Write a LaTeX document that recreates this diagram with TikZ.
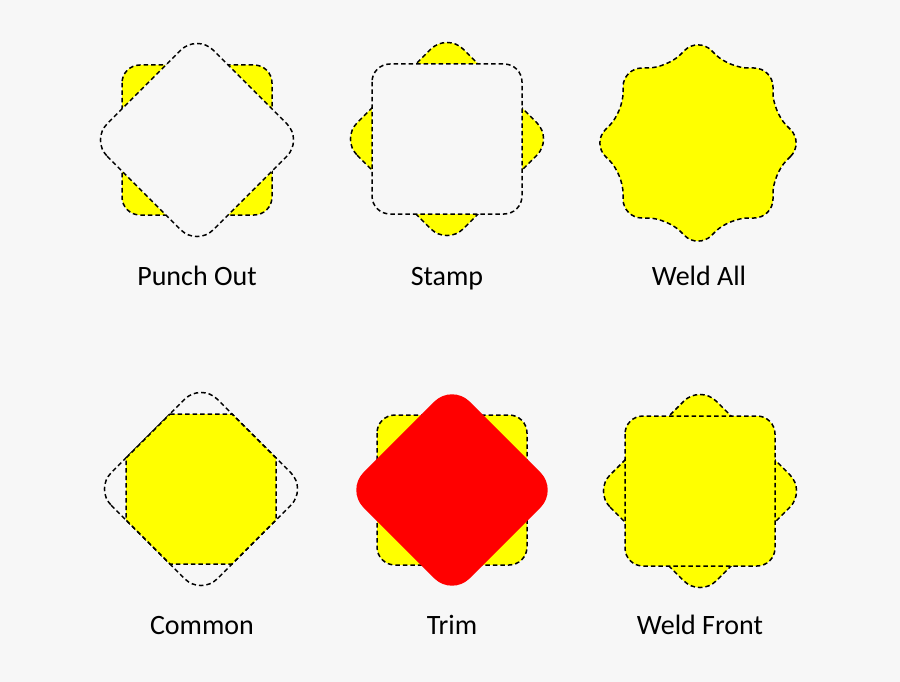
\documentclass[tikz,border=0pt]{standalone}
\usepackage{fontspec}
\setmainfont{Carlito}
\usetikzlibrary{positioning}

\definecolor{paper}{HTML}{F7F7F7}
\definecolor{weldyellow}{HTML}{FFFF00}
\definecolor{trimred}{HTML}{FF0000}

\begin{document}
\begin{tikzpicture}[x=1pt, y=-1pt,
    cutline/.style={draw=black, line width=1.5pt, dash pattern=on 4.5pt off 3pt},
    sqpath/.style={insert path={[rounded corners=18] (-75,-75) rectangle (75,75)}},
    dmpath/.style={insert path={[rotate=45, rounded corners=23] (-75,-75) rectangle (75,75)}},
    lbl/.style={anchor=base, font=\fontsize{28}{34}\selectfont}]
  \fill[paper] (0,0) rectangle (900,682);

  % top row
  \begin{scope}[shift={(197,140)}]
    \path[cutline, fill=weldyellow, sqpath];
    \path[cutline, fill=paper, dmpath];
  \end{scope}
  \begin{scope}[shift={(447,139)}]
    \path[cutline, fill=weldyellow, dmpath];
    \path[cutline, fill=paper, sqpath];
  \end{scope}
  \begin{scope}[shift={(698,143)}]
    \path[cutline, fill=weldyellow, rounded corners=19]
      (106,0) -- (75,31) -- (75,75) -- (31,75) -- (0,106)
      -- (-31,75) -- (-75,75) -- (-75,31) -- (-106,0) -- (-75,-31)
      -- (-75,-75) -- (-31,-75) -- (0,-106) -- (31,-75) -- (75,-75)
      -- (75,-31) -- cycle;
  \end{scope}

  % bottom row
  \begin{scope}[shift={(201,489)}]
    \path[cutline, dmpath];
    \path[cutline, fill=weldyellow] (-31,-75) -- (31,-75) -- (75,-31) -- (75,31)
      -- (31,75) -- (-31,75) -- (-75,31) -- (-75,-31) -- cycle;
  \end{scope}
  \begin{scope}[shift={(452,490)}]
    \path[cutline, fill=weldyellow, sqpath];
    \fill[trimred, rotate=45, rounded corners=25] (-75,-75) rectangle (75,75);
  \end{scope}
  \begin{scope}[shift={(700,491)}]
    \path[cutline, fill=weldyellow, dmpath];
    \path[cutline, fill=weldyellow, sqpath];
  \end{scope}

  \node[lbl] (punchout) at (197,285) {Punch Out};
  \node[lbl] (stamp) at (447,285) {Stamp};
  \node[lbl] (weldall) at (699,285) {Weld All};
  \node[lbl] (common) at (202,634) {Common};
  \node[lbl] (trim) at (452,634) {Trim};
  \node[lbl] (weldfront) at (700,634) {Weld Front};
\end{tikzpicture}
\end{document}
